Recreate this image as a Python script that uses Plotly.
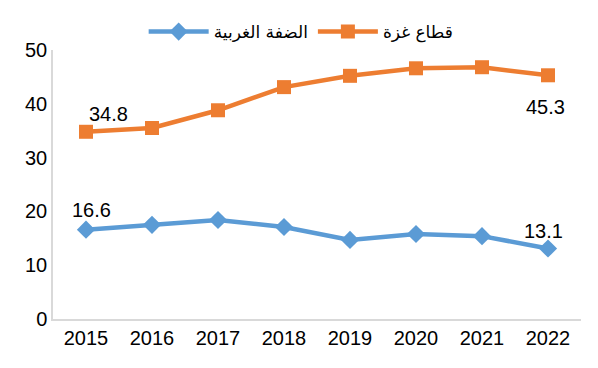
import plotly.graph_objects as go

years = ["2015", "2016", "2017", "2018", "2019", "2020", "2021", "2022"]
west_bank = [16.6, 17.5, 18.4, 17.1, 14.7, 15.8, 15.4, 13.1]
gaza = [34.8, 35.5, 38.8, 43.1, 45.2, 46.6, 46.8, 45.3]
west_bank_name = "الضفة الغربية"
gaza_name = "قطاع غزة"

font = "Liberation Sans, Arial, sans-serif"

fig = go.Figure()
fig.add_trace(go.Scatter(
    x=years, y=west_bank, name=west_bank_name, mode="lines+markers",
    line=dict(color="#5B9BD5", width=4.5),
    marker=dict(symbol="diamond", size=14, color="#5B9BD5"),
))
fig.add_trace(go.Scatter(
    x=years, y=gaza, name=gaza_name, mode="lines+markers",
    line=dict(color="#ED7D31", width=4.5),
    marker=dict(symbol="square", size=14, color="#ED7D31"),
))

# data labels on first and last points (category index of the point, offset in px)
first, last = 0, len(years) - 1
label_specs = [
    (first, gaza[first], 22, 18),
    (last, gaza[last], -3, -32),
    (first, west_bank[first], 5, 20),
    (last, west_bank[last], -5, 18),
]
for xi, y, xs, ys in label_specs:
    fig.add_annotation(x=xi, y=y, xref="x", yref="y", text=f"{y:.1f}",
                       showarrow=False, xshift=xs, yshift=ys,
                       font=dict(size=20, color="#000000"))

# page body has an 8px offset, so figure is sized to the visible area
fig.update_layout(
    width=590, height=360,
    margin=dict(l=45, r=17, t=42, b=49, autoexpand=False),
    paper_bgcolor="white", plot_bgcolor="white",
    font=dict(family=font, size=20, color="#000000"),
    showlegend=True,
    legend=dict(orientation="h", x=0.47, xanchor="center", y=1.067, yanchor="middle",
                font=dict(size=17, family="DejaVu Sans, Liberation Sans, sans-serif"),
                traceorder="normal", itemwidth=60),
    xaxis=dict(type="category", showline=True, linecolor="#D9D9D9", linewidth=1.5,
               showgrid=False, ticks="", tickfont=dict(size=20), range=[-0.5, 7.5]),
    yaxis=dict(showline=True, linecolor="#D9D9D9", linewidth=1.5, showgrid=False,
               range=[0, 50], dtick=10, ticks="", tickfont=dict(size=20),
               zeroline=False),
)

fig.write_html("out.html")
